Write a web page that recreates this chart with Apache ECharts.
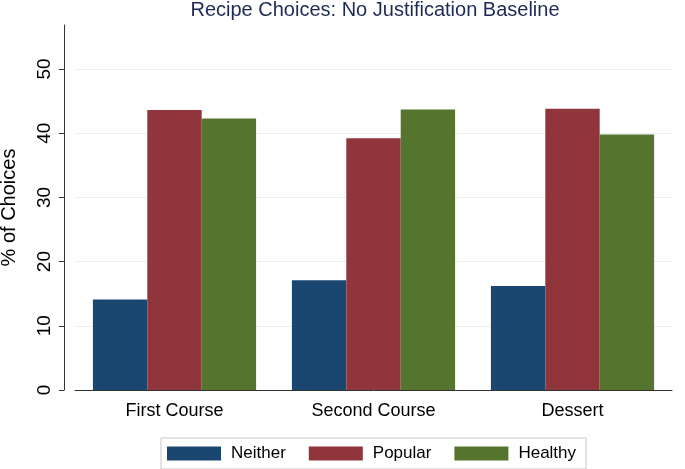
<!DOCTYPE html>
<html>
<head>
<meta charset="utf-8">
<script src="https://cdn.jsdelivr.net/npm/echarts@6/dist/echarts.min.js"></script>
<style>
  html, body { margin: 0; padding: 0; background: #fff; }
  #chart { width: 685px; height: 469px; }
</style>
</head>
<body>
<div id="chart"></div>
<script>
// categories and values
var courses = ['First Course', 'Second Course', 'Dessert'];
var neither = [14.1, 17.1, 16.2];
var popular = [43.6, 39.2, 43.8];
var healthy = [42.3, 43.7, 39.8];
var yTicks = [0, 10, 20, 30, 40, 50];

var font = 'Liberation Sans, Arial, sans-serif';
var myChart = echarts.init(document.getElementById('chart'));

function bar(name, data, color) {
  return {
    name: name,
    type: 'bar',
    data: data,
    barGap: '0%',
    barCategoryGap: '18%',
    itemStyle: { color: color },
    emphasis: { disabled: true }
  };
}

var option = {
  animation: false,
  backgroundColor: '#fff',
  title: {
    text: 'Recipe Choices: No Justification Baseline',
    left: 375,
    textAlign: 'center',
    top: 0,
    padding: 0,
    textStyle: { fontFamily: font, fontSize: 20, fontWeight: 'normal', color: '#1c2b56' }
  },
  legend: {
    data: ['Neither', 'Popular', 'Healthy'],
    left: 161,
    top: 438,
    padding: [7, 10, 7, 6],
    itemWidth: 54,
    itemHeight: 14,
    itemGap: 23,
    borderColor: '#c8c8c8',
    borderWidth: 1,
    icon: 'rect',
    selectedMode: false,
    textStyle: { fontFamily: font, fontSize: 17, color: '#000', padding: [0, 0, 0, 5] }
  },
  grid: { left: 75, right: 13, top: 25, bottom: 79, outerBoundsMode: 'none' },
  xAxis: {
    type: 'category',
    data: courses,
    axisLine: { lineStyle: { color: '#333', width: 1 } },
    axisTick: { show: false },
    axisLabel: { fontFamily: font, fontSize: 18, color: '#000', margin: 12 }
  },
  yAxis: {
    type: 'value',
    min: 0,
    max: 56.85,
    interval: 10,
    offset: 11,
    name: '% of Choices',
    nameLocation: 'middle',
    nameGap: 45,
    nameTextStyle: { fontFamily: font, fontSize: 20, color: '#000' },
    axisLine: { show: true, lineStyle: { color: '#333', width: 1 } },
    axisTick: { show: true, length: 5, lineStyle: { color: '#333' } },
    axisLabel: {
      fontFamily: font, fontSize: 19, color: '#000', rotate: 90, margin: 10,
      showMaxLabel: false,
      formatter: function (v) { return yTicks.indexOf(v) >= 0 ? String(v) : ''; }
    },
    splitLine: { show: true, showMaxLine: false, lineStyle: { color: '#e8f0f2', width: 1 } }
  },
  series: [
    bar('Neither', neither, '#1a476f'),
    bar('Popular', popular, '#90353b'),
    bar('Healthy', healthy, '#55752f')
  ]
};
myChart.setOption(option);
</script>
</body>
</html>
